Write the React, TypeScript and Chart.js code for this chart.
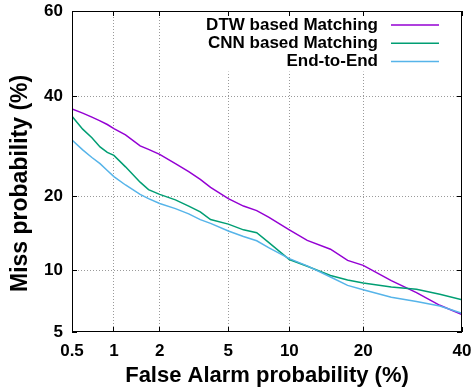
import React, { useEffect, useRef } from 'react';
import { Chart, Scale, registerables } from 'chart.js';

Chart.register(...registerables);

// ---- data (percent) ----
const falseAlarm = [0.5, 0.6, 0.7, 0.8, 0.9, 1, 1.2, 1.5, 1.7, 2, 2.5, 3, 3.5, 4, 5, 6, 7, 8, 10, 12, 15, 17.5, 20, 25, 30, 35, 40];
const dtwMiss = [37.2, 36.3, 35.4, 34.6, 33.8, 32.9, 31.6, 29.3, 28.6, 27.6, 25.8, 24.3, 22.9, 21.5, 19.6, 18.4, 17.7, 16.7, 14.9, 13.5, 12.4, 11.1, 10.55, 9.0, 7.9, 6.85, 6.16];
const cnnMiss = [35.6, 32.8, 31.0, 29.1, 28.0, 27.4, 25.2, 22.4, 21.1, 20.3, 19.4, 18.4, 17.5, 16.35, 15.7, 14.9, 14.5, 13.25, 11.2, 10.45, 9.5, 9.05, 8.76, 8.4, 8.2, 7.75, 7.3];
const e2eMiss = [30.5, 28.5, 27.0, 25.8, 24.5, 23.4, 21.9, 20.3, 19.6, 18.8, 18.0, 17.2, 16.35, 15.8, 14.75, 14.0, 13.45, 12.6, 11.3, 10.5, 9.35, 8.55, 8.15, 7.5, 7.15, 6.8, 6.25];
const xTicks = [0.5, 1, 2, 5, 10, 20, 40];
const yTicks = [5, 10, 20, 40, 60];
const seriesLabels = ['DTW based Matching', 'CNN based Matching', 'End-to-End'];
const seriesColors = ['#9400d3', '#009e73', '#56b4e9'];

const FONT = "'Liberation Sans', Arial, Helvetica, sans-serif";

// inverse normal CDF (Acklam)
function probit(p: number): number {
  const a = [-3.969683028665376e1, 2.209460984245205e2, -2.759285104469687e2, 1.38357751867269e2, -3.066479806614716e1, 2.506628277459239];
  const b = [-5.447609879822406e1, 1.615858368580409e2, -1.556989798598866e2, 6.680131188771972e1, -1.328068155288572e1];
  const c = [-7.784894002430293e-3, -3.223964580411365e-1, -2.400758277161838, -2.549732539343734, 4.374664141464968, 2.938163982698783];
  const d = [7.784695709041462e-3, 3.224671290700398e-1, 2.445134137142996, 3.754408661907416];
  const pl = 0.02425;
  let q: number, r: number;
  if (p < pl) {
    q = Math.sqrt(-2 * Math.log(p));
    return (((((c[0] * q + c[1]) * q + c[2]) * q + c[3]) * q + c[4]) * q + c[5]) / ((((d[0] * q + d[1]) * q + d[2]) * q + d[3]) * q + 1);
  }
  if (p <= 1 - pl) {
    q = p - 0.5;
    r = q * q;
    return ((((((a[0] * r + a[1]) * r + a[2]) * r + a[3]) * r + a[4]) * r + a[5]) * q) / (((((b[0] * r + b[1]) * r + b[2]) * r + b[3]) * r + b[4]) * r + 1);
  }
  q = Math.sqrt(-2 * Math.log(1 - p));
  return -(((((c[0] * q + c[1]) * q + c[2]) * q + c[3]) * q + c[4]) * q + c[5]) / ((((d[0] * q + d[1]) * q + d[2]) * q + d[3]) * q + 1);
}

function normCdf(z: number): number {
  const t = 1 / (1 + 0.3275911 * Math.abs(z) / Math.SQRT2);
  const y = 1 - (((((1.061405429 * t - 1.453152027) * t) + 1.421413741) * t - 0.284496736) * t + 0.254829592) * t * Math.exp(-(z * z) / 2);
  return z >= 0 ? 0.5 * (1 + y) : 0.5 * (1 - y);
}

class ProbitScale extends Scale {
  static id = 'probit';
  static defaults = {};
  determineDataLimits() {
    const o: any = this.options;
    this.min = o.min;
    this.max = o.max;
  }
  buildTicks() {
    const o: any = this.options;
    const vals: number[] = o.tickValues || (this.axis === 'x' ? xTicks : yTicks);
    return vals.map((v) => ({ value: v }));
  }
  getLabelForValue(v: number) {
    return String(v);
  }
  getPixelForValue(v: number) {
    if (v === null || v === undefined || isNaN(v)) return NaN;
    const zs = probit(this.min / 100);
    const span = probit(this.max / 100) - zs;
    return this.getPixelForDecimal((probit(v / 100) - zs) / span);
  }
  getValueForPixel(px: number) {
    const zs = probit(this.min / 100);
    const span = probit(this.max / 100) - zs;
    return 100 * normCdf(zs + this.getDecimalForPixel(px) * span);
  }
}
Chart.register(ProbitScale as any);

const align = (p: number) => Math.round(p - 0.5) + 0.5;

const framePlugin = {
  id: 'gnuplotFrame',
  afterDatasetsDraw(chart: any) {
    const { ctx, chartArea } = chart;
    const { left, right, top, bottom } = chartArea;
    const xs = chart.scales.x;
    const ys = chart.scales.y;
    ctx.save();
    // key (opaque)
    ctx.font = `bold 17px ${FONT}`;
    const textRight = right - 84;
    const lineStart = right - 71;
    const lineEnd = right - 23;
    const rowY = (i: number) => top + 14 + i * 18.3;
    const ds = chart.data.datasets;
    const maxW = Math.max(...ds.map((d: any) => ctx.measureText(d.label).width));
    const boxL = textRight - maxW - 4;
    ctx.fillStyle = '#fff';
    ctx.fillRect(boxL, top + 5, right - 1 - boxL, rowY(ds.length - 1) + 10 - (top + 5));

    // frame + inward ticks
    ctx.strokeStyle = '#000';
    ctx.lineWidth = 1;
    ctx.beginPath();
    xs.ticks.forEach((t: any) => {
      const px = align(xs.getPixelForValue(t.value));
      ctx.moveTo(px, bottom);
      ctx.lineTo(px, bottom - 5);
      ctx.moveTo(px, top);
      ctx.lineTo(px, top + 5);
    });
    ys.ticks.forEach((t: any) => {
      const py = align(ys.getPixelForValue(t.value));
      ctx.moveTo(left, py);
      ctx.lineTo(left + 5, py);
      ctx.moveTo(right, py);
      ctx.lineTo(right - 5, py);
    });
    ctx.stroke();
    ctx.strokeRect(left + 0.5, top + 0.5, right - left - 1, bottom - top - 1);

    // key text and samples
    ctx.fillStyle = '#000';
    ctx.textAlign = 'right';
    ctx.textBaseline = 'middle';
    ds.forEach((d: any, i: number) => {
      const y = rowY(i);
      ctx.fillText(d.label, textRight, y);
      ctx.strokeStyle = d.borderColor;
      ctx.lineWidth = 1.5;
      ctx.beginPath();
      ctx.moveTo(lineStart, y);
      ctx.lineTo(lineEnd, y);
      ctx.stroke();
    });
    ctx.restore();
  },
};

const seriesValues = [dtwMiss, cnnMiss, e2eMiss];

const zeroPad = (s: any) => {
  s.paddingTop = 0;
  s.paddingBottom = 0;
  s.paddingLeft = 0;
  s.paddingRight = 0;
};

export default function App() {
  const ref = useRef<HTMLCanvasElement>(null);
  useEffect(() => {
    if (!ref.current) return;
    const gridColor = (n: number) => (c: any) => (c.index === 0 || c.index === n - 1 ? 'rgba(0,0,0,0)' : '#9a9a9a');
    const chart = new Chart(ref.current, {
      type: 'line',
      data: {
        datasets: seriesValues.map((vals, i) => ({
          label: seriesLabels[i],
          data: falseAlarm.map((x, j) => ({ x, y: vals[j] })),
          borderColor: seriesColors[i],
          backgroundColor: seriesColors[i],
          borderWidth: 1.5,
          pointRadius: 0,
          tension: 0,
          fill: false,
          order: 3 - i,
        })),
      },
      options: {
        animation: false,
        responsive: false,
        devicePixelRatio: 1,
        layout: { padding: { top: 11, right: 12, left: 0, bottom: 0 } },
        plugins: { legend: { display: false }, tooltip: { enabled: false } },
        scales: {
          x: {
            type: 'probit' as any,
            position: 'bottom',
            min: 0.5,
            max: 40,
            tickValues: xTicks,
            afterFit: (s: any) => {
              s.height = 60;
              zeroPad(s);
            },
            grid: { color: gridColor(xTicks.length), lineWidth: 1, drawTicks: false, borderDash: [1, 2] },
            border: { display: false, dash: [1, 2] },
            ticks: {
              autoSkip: false,
              maxRotation: 0,
              minRotation: 0,
              padding: 9,
              color: '#000',
              font: { family: FONT, size: 17, weight: 'bold' },
              callback: (v: any) => String(v),
            },
            title: {
              display: true,
              text: 'False Alarm probability (%)',
              color: '#000',
              font: { family: FONT, size: 22, weight: 'bold' },
              padding: { top: 0, bottom: 3 },
            },
          } as any,
          y: {
            type: 'probit' as any,
            position: 'left',
            min: 5,
            max: 60,
            tickValues: yTicks,
            afterFit: (s: any) => {
              s.width = 72;
              zeroPad(s);
            },
            grid: { color: gridColor(yTicks.length), lineWidth: 1, drawTicks: false, borderDash: [1, 2] },
            border: { display: false, dash: [1, 2] },
            ticks: {
              autoSkip: false,
              padding: 9,
              color: '#000',
              font: { family: FONT, size: 17, weight: 'bold' },
              callback: (v: any) => String(v),
            },
            title: {
              display: true,
              text: 'Miss probability (%)   \u2009',
              color: '#000',
              font: { family: FONT, size: 23, weight: 'bold' },
              padding: { top: 7, bottom: 0 },
            },
          } as any,
        },
      },
      plugins: [framePlugin],
    });
    return () => chart.destroy();
  }, []);
  return (
    <div style={{ position: 'absolute', left: 0, top: 0, width: 474, height: 392, background: '#fff' }}>
      <canvas ref={ref} width={474} height={392} style={{ display: 'block', width: 474, height: 392 }} />
    </div>
  );
}
